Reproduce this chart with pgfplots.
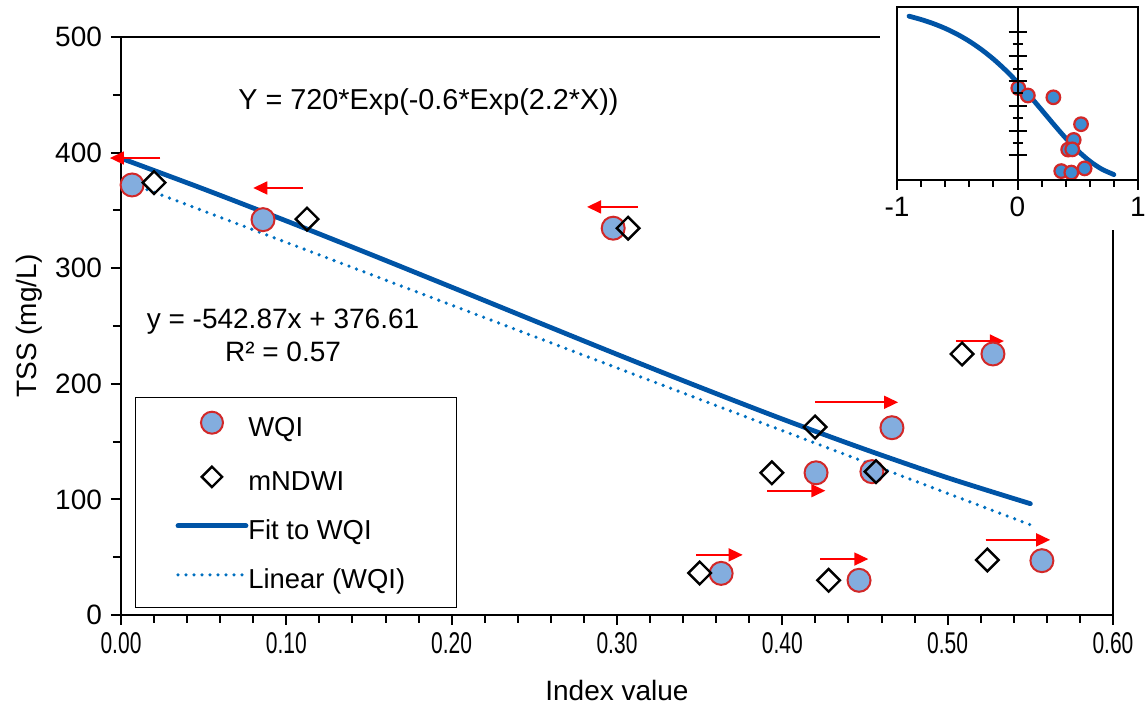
\documentclass[border=0pt]{standalone}
\usepackage{fontspec}
\setmainfont{Liberation Sans}
\usepackage{graphicx}
\usepackage{pgfplots}
\pgfplotsset{compat=1.18}
\usetikzlibrary{arrows.meta}
\definecolor{fitblue}{RGB}{0,84,166}
\definecolor{linblue}{RGB}{0,112,192}
\definecolor{wqifill}{RGB}{131,173,222}
\definecolor{wqiedge}{RGB}{210,40,40}
\definecolor{insfill}{RGB}{60,140,210}
\definecolor{arrred}{RGB}{255,0,0}

\pgfplotstableread{
x y
0.0067 372
0.0859 342
0.2977 334.6
0.5274 225.8
0.4663 162
0.4204 123
0.4542 124
0.363 36
0.4464 30
0.557 47
}\wqitab
\pgfplotstableread{
x y
0.020 374
0.1125 342.5
0.3067 334.6
0.5087 225.8
0.4198 162.6
0.3937 123
0.4567 124
0.350 36.3
0.428 30
0.524 47.6
}\mndwitab
\pgfplotstableread{
x y
0.00 395.1
0.05 368.5
0.10 340.9
0.15 312.5
0.20 283.6
0.25 254.5
0.30 225.5
0.35 197.1
0.40 169.5
0.45 143.3
0.50 118.7
0.55 96.3
}\fittab
\pgfplotstableread{
x y
-0.9 662.8
-0.8 649.4
-0.7 633.1
-0.6 613.4
-0.5 589.7
-0.4 561.4
-0.3 528.0
-0.2 489.3
-0.1 444.9
0.0 395.1
0.1 340.9
0.2 283.6
0.3 225.5
0.4 169.5
0.5 118.7
0.6 76.2
0.7 43.8
0.8 22.0
}\fitwidetab

\pgfplotsset{
  redarrow/.style={forget plot, draw=arrred, fill=arrred, line width=0.8pt, -{Triangle[length=7pt,width=6.5pt]}},
  insetbase/.style={at={(388pt,217.5pt)}, anchor=south west,
    scale only axis, width=120.5pt, height=86.5pt,
    xmin=-1, xmax=1, ymin=0, ymax=700,
    axis line style={line width=1pt},
    tick style={line width=1pt, black}},
}
\newcommand{\xl}[1]{\scalebox{0.7}[1]{#1}}

\begin{document}
\begin{tikzpicture}
\begin{axis}[
 name=main, at={(0,0)}, anchor=south west,
 scale only axis, width=496pt, height=289pt,
 xmin=0, xmax=0.6, ymin=0, ymax=500,
 clip=false,
 axis line style={line width=1pt},
 tick style={line width=1pt, black},
 tick align=outside, tick pos=left,
 major tick length=5pt, minor tick length=4pt,
 xtick={0,0.1,0.2,0.3,0.4,0.5,0.6},
 xticklabels={\xl{0.00},\xl{0.10},\xl{0.20},\xl{0.30},\xl{0.40},\xl{0.50},\xl{0.60}},
 minor x tick num=4,
 ytick={0,100,200,300,400,500},
 yticklabels={0,100,200,300,400,500},
 minor y tick num=1,
 yticklabel style={font=\fontsize{14}{16}\selectfont, xshift=-1pt},
 xticklabel style={font=\fontsize{15}{17}\selectfont},
 xlabel={Index value}, ylabel={TSS (mg/L)},
 label style={font=\fontsize{14}{16}\selectfont},
 xlabel style={at={(axis description cs:0.5,-0.13)}, anchor=center},
 ylabel style={at={(axis description cs:-0.092,0.5)}, anchor=center},
 legend image code/.code={\draw[mark repeat=2,mark phase=2,#1] plot coordinates {(0pt,3.5pt) (17pt,3.5pt) (34pt,3.5pt)};},
 legend cell align=left,
 legend style={at={(axis description cs:0.0141,0.377)}, anchor=north west,
   draw=black, line width=0.6pt, font=\fontsize{13.7}{15}\selectfont,
   inner xsep=20pt, inner ysep=7pt, row sep=12.5pt,
   nodes={inner sep=0pt, text height=9.5pt, text depth=2.5pt},
   /tikz/every even column/.append style={column sep=4pt}},
]
\addlegendimage{only marks, mark=*, mark size=5.5pt, mark options={fill=wqifill, draw=wqiedge, line width=1pt}}
\addlegendentry{WQI}
\addlegendimage{only marks, mark=square, mark size=3.6pt, mark options={rotate=45, draw=black, line width=1.2pt}}
\addlegendentry{mNDWI}
\addlegendimage{fitblue, line width=2.4pt, line cap=round}
\addlegendentry{Fit to WQI}
\addlegendimage{linblue, line width=1.8pt, line cap=round, dash pattern=on 0pt off 4pt}
\addlegendentry{Linear (WQI)\rule{5.5pt}{0pt}}

\addplot[forget plot, linblue, line width=1.8pt, line cap=round, dash pattern=on 0pt off 4pt] coordinates {(0.0067,372.97) (0.554,75.86)};
\addplot[forget plot, fitblue, line width=2.4pt, line cap=round, smooth] table[x=x,y=y] {\fittab};
\addplot[forget plot, only marks, mark=*, mark size=5.75pt, mark options={fill=wqifill, draw=wqiedge, line width=1pt}] table[x=x,y=y] {\wqitab};
\addplot[forget plot, only marks, mark=square, mark size=4pt, mark options={rotate=45, draw=black, line width=1.2pt}] table[x=x,y=y] {\mndwitab};

\addplot[redarrow] coordinates {(0.391,107.5) (0.426,107.5)};
\addplot[redarrow] coordinates {(0.0236,395.3) (-0.0067,395.3)};
\addplot[redarrow] coordinates {(0.110,369.4) (0.080,369.4)};
\addplot[redarrow] coordinates {(0.3127,353) (0.2819,353)};
\addplot[redarrow] coordinates {(0.4198,184) (0.470,184)};
\addplot[redarrow] coordinates {(0.348,52) (0.376,52)};
\addplot[redarrow] coordinates {(0.423,48.4) (0.452,48.4)};
\addplot[redarrow] coordinates {(0.505,237) (0.534,237)};
\addplot[redarrow] coordinates {(0.523,65) (0.562,65)};

\node[font=\fontsize{14.4}{16}\selectfont] at (axis cs:0.186,444) {Y = 720*Exp(-0.6*Exp(2.2*X))};
\node[font=\fontsize{14}{16.5}\selectfont, align=center] at (axis cs:0.098,242) {y = -542.87x + 376.61\\R² = 0.57};
\end{axis}

\fill[white] (379.5pt,192.5pt) rectangle (520pt,315pt);

% inset: frame + x axis at the bottom with the data
\begin{axis}[insetbase,
 axis x line*=bottom, axis y line=none,
 tick align=outside,
 major tick length=5pt, minor tick length=3.5pt,
 xtick={-1,0,1}, xticklabels={-1,0,1},
 minor x tick num=4,
 ticklabel style={font=\fontsize{14}{16}\selectfont},
 after end axis/.code={\draw[line width=1pt] (rel axis cs:0,0) rectangle (rel axis cs:1,1);},
]
\addplot[fitblue, line width=2.4pt, line cap=round, smooth] table[x=x,y=y] {\fitwidetab};
\addplot[only marks, mark=*, mark size=3.4pt, mark options={fill=insfill, draw=wqiedge, line width=1.1pt}] table[x=x,y=y] {\wqitab};
\end{axis}
% inset: vertical axis through x = 0
\begin{axis}[insetbase,
 axis x line=none, axis y line*=center,
 tick align=center,
 major tick length=9pt, minor tick length=5pt,
 ytick={100,200,300,400,500,600}, yticklabels={},
 minor y tick num=1,
]
\addplot[draw=none, forget plot] coordinates {(0,0) (0,700)};
\end{axis}

\pgfresetboundingbox
\path[use as bounding box] (-60.5pt,-45pt) rectangle (513.5pt,307.5pt);
\end{tikzpicture}
\end{document}
